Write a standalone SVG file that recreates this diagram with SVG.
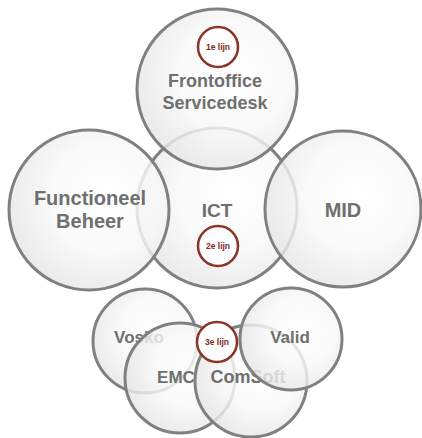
<svg xmlns="http://www.w3.org/2000/svg" width="422" height="438" viewBox="0 0 422 438">
  <defs>
    <radialGradient id="discFill" cx="60%" cy="42%" r="62%">
      <stop offset="0" stop-color="#ffffff"/>
      <stop offset="0.55" stop-color="#f8f8f8"/>
      <stop offset="1" stop-color="#e6e6e6"/>
    </radialGradient>
  </defs>
  <style>
    .disc { fill: url(#discFill); fill-opacity: 0.82; stroke: #808080; stroke-width: 3; }
    .name { font-family: "Liberation Sans", Arial, sans-serif; font-weight: bold; fill: #6f6f6f; text-anchor: middle; }
    .tag circle { fill: #ffffff; stroke: #8a3326; stroke-width: 2.5; }
    .tag text { font-family: "Liberation Sans", Arial, sans-serif; font-weight: bold; font-size: 8.5px; fill: #7a2b20; text-anchor: middle; }
  </style>
  <rect width="422" height="438" fill="#ffffff"/>

  <!-- central ring -->
  <g id="ict">
    <circle class="disc" cx="217" cy="208" r="80"/>
    <text class="name" x="217" y="217" font-size="19">ICT</text>
  </g>
  <g id="functioneel-beheer">
    <circle class="disc" cx="89" cy="210" r="80"/>
    <text class="name" x="90" y="205" font-size="20">Functioneel</text>
    <text class="name" x="90" y="228" font-size="20">Beheer</text>
  </g>
  <g id="mid">
    <circle class="disc" cx="343" cy="209" r="78"/>
    <text class="name" x="343" y="217" font-size="20">MID</text>
  </g>
  <g id="frontoffice">
    <circle class="disc" cx="217" cy="89" r="80"/>
    <text class="name" x="215" y="87" font-size="18">Frontoffice</text>
    <text class="name" x="215" y="109" font-size="18">Servicedesk</text>
  </g>

  <!-- suppliers -->
  <g id="vosko">
    <circle class="disc" cx="145" cy="341" r="52"/>
    <text class="name" x="139" y="343" font-size="17">Vosko</text>
  </g>
  <g id="emc">
    <circle class="disc" cx="180" cy="378" r="55"/>
    <text class="name" x="176" y="383" font-size="17">EMC</text>
  </g>
  <g id="comsoft">
    <circle class="disc" cx="251" cy="381" r="56"/>
    <text class="name" x="248" y="383" font-size="18">ComSoft</text>
  </g>
  <g id="valid">
    <circle class="disc" cx="291" cy="339" r="51"/>
    <text class="name" x="290" y="343" font-size="17">Valid</text>
  </g>

  <!-- support line tags -->
  <g id="tag-1e-lijn" class="tag">
    <circle cx="218" cy="47" r="20"/>
    <text x="218" y="50">1e lijn</text>
  </g>
  <g id="tag-2e-lijn" class="tag">
    <circle cx="218" cy="246" r="20"/>
    <text x="218" y="249">2e lijn</text>
  </g>
  <g id="tag-3e-lijn" class="tag">
    <circle cx="217" cy="342" r="20"/>
    <text x="217" y="345">3e lijn</text>
  </g>
</svg>
